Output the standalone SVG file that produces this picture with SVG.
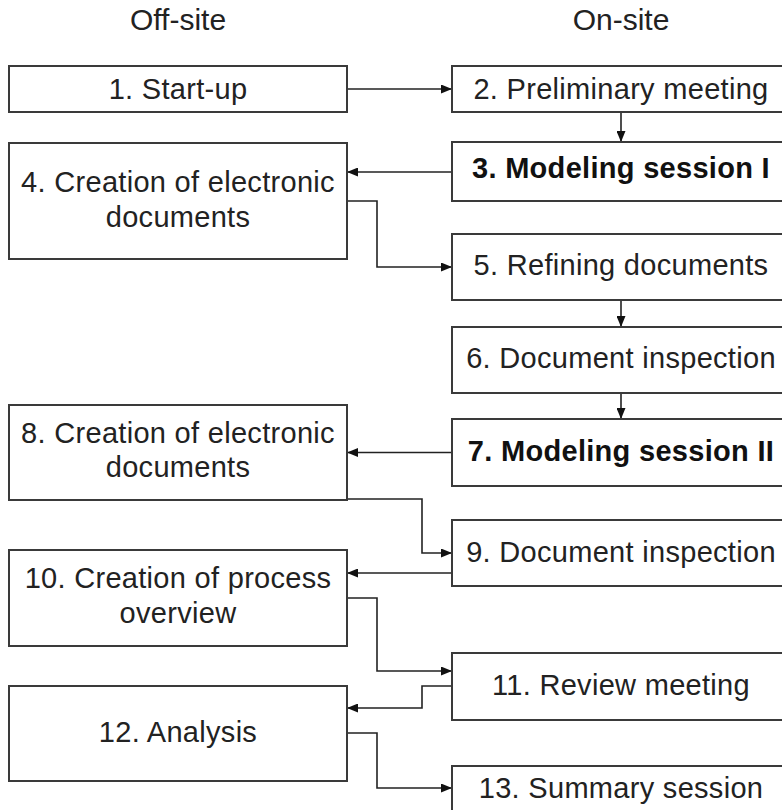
<svg xmlns="http://www.w3.org/2000/svg" width="782" height="810" viewBox="0 0 782 810">
<style>
.box{fill:#fff;stroke:#3a3a3a;stroke-width:2}
.t{font-family:"Liberation Sans",Arial,sans-serif;font-size:29px;fill:#222;text-anchor:middle;letter-spacing:0.3px}
.b{font-weight:bold;fill:#111}
.h{font-family:"Liberation Sans",Arial,sans-serif;font-size:30px;fill:#222;text-anchor:middle}
.c{fill:none;stroke:#222;stroke-width:1.6}
</style>
<defs>
<marker id="ar" viewBox="0 0 11 9" refX="11" refY="4.5" markerWidth="11" markerHeight="9" markerUnits="userSpaceOnUse" orient="auto">
<path d="M0,0 L11,4.5 L0,9 z" fill="#111"/>
</marker>
</defs>
<rect width="782" height="810" fill="#fff"/>
<g id="headers">
<text class="h" x="178" y="30">Off-site</text>
<text class="h" x="621" y="30">On-site</text>
</g>
<g id="connectors">
<path class="c" d="M347,89 H452" marker-end="url(#ar)"/>
<path class="c" d="M621,112 V142" marker-end="url(#ar)"/>
<path class="c" d="M452,172 H347" marker-end="url(#ar)"/>
<path class="c" d="M347,201 H377 V267 H452" marker-end="url(#ar)"/>
<path class="c" d="M621,300 V327" marker-end="url(#ar)"/>
<path class="c" d="M621,393 V419" marker-end="url(#ar)"/>
<path class="c" d="M452,452.5 H347" marker-end="url(#ar)"/>
<path class="c" d="M347,499 H422 V553 H452" marker-end="url(#ar)"/>
<path class="c" d="M452,573 H347" marker-end="url(#ar)"/>
<path class="c" d="M347,598 H377 V671 H452" marker-end="url(#ar)"/>
<path class="c" d="M452,686 H422 V708 H347" marker-end="url(#ar)"/>
<path class="c" d="M347,733 H377 V788 H452" marker-end="url(#ar)"/>
</g>
<g id="n1"><rect class="box" x="9" y="66" width="338" height="46"/><text class="t" x="178" y="99">1. Start-up</text></g>
<g id="n2"><rect class="box" x="452" y="66" width="339" height="46"/><text class="t" x="621" y="99">2. Preliminary meeting</text></g>
<g id="n3"><rect class="box" x="452" y="142" width="339" height="59"/><text class="t b" x="621" y="178">3. Modeling session I</text></g>
<g id="n4"><rect class="box" x="9" y="143" width="338" height="116"/><text class="t" x="178" y="192">4. Creation of electronic</text><text class="t" x="178" y="227">documents</text></g>
<g id="n5"><rect class="box" x="452" y="234" width="339" height="66"/><text class="t" x="621" y="275">5. Refining documents</text></g>
<g id="n6"><rect class="box" x="452" y="327" width="339" height="66"/><text class="t" x="621" y="368">6. Document inspection</text></g>
<g id="n7"><rect class="box" x="452" y="419" width="339" height="67"/><text class="t b" x="621" y="461">7. Modeling session II</text></g>
<g id="n8"><rect class="box" x="9" y="405" width="338" height="95"/><text class="t" x="178" y="443">8. Creation of electronic</text><text class="t" x="178" y="477">documents</text></g>
<g id="n9"><rect class="box" x="452" y="520" width="339" height="66"/><text class="t" x="621" y="562">9. Document inspection</text></g>
<g id="n10"><rect class="box" x="9" y="550" width="338" height="96"/><text class="t" x="178" y="588">10. Creation of process</text><text class="t" x="178" y="623">overview</text></g>
<g id="n11"><rect class="box" x="452" y="653" width="339" height="67"/><text class="t" x="621" y="695">11. Review meeting</text></g>
<g id="n12"><rect class="box" x="9" y="686" width="338" height="95"/><text class="t" x="178" y="742">12. Analysis</text></g>
<g id="n13"><rect class="box" x="452" y="766" width="339" height="50"/><text class="t" x="621" y="798">13. Summary session</text></g>
</svg>
